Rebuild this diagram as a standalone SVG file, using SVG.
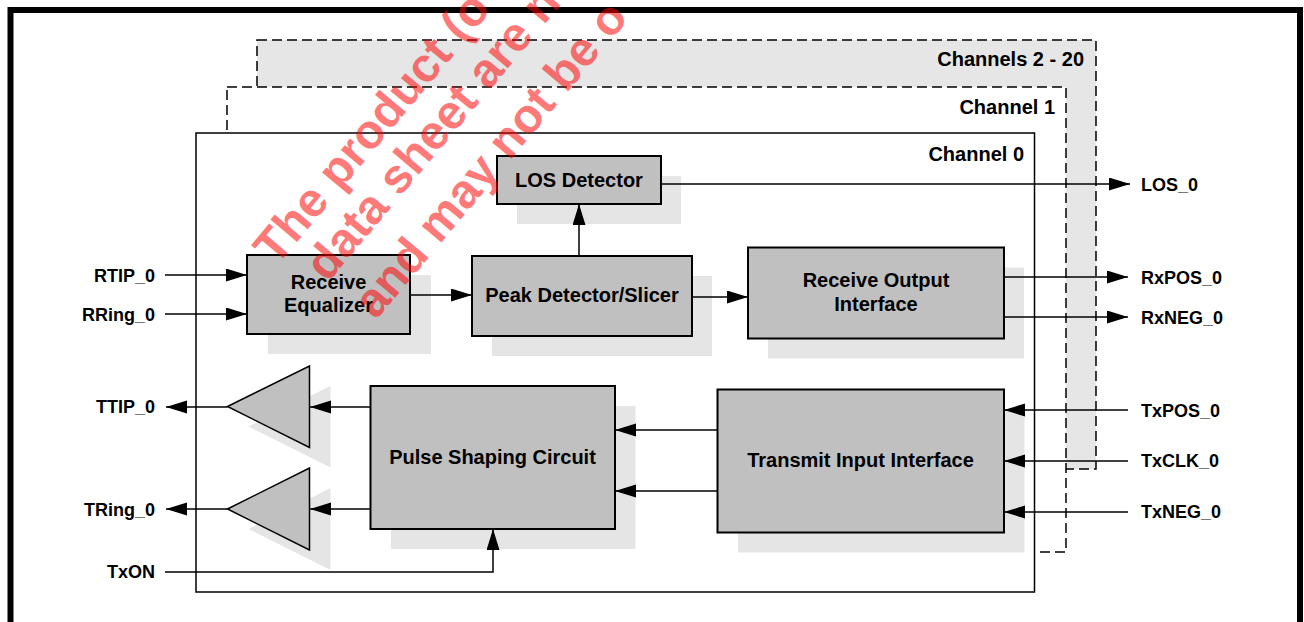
<svg xmlns="http://www.w3.org/2000/svg" width="1304" height="622" viewBox="0 0 1304 622">
<defs>
<style>
.blk{fill:#c0c0c0;stroke:#000;stroke-width:2}
.shd{fill:#e5e5e5;stroke:none}
.ch{stroke:#000;stroke-width:1.5}
.dash{stroke-dasharray:10,5}
.ln{fill:none;stroke:#000;stroke-width:1.5}
text{font-family:"Liberation Sans",Arial,Helvetica,sans-serif;font-weight:bold;fill:#000}
.bt{font-size:20px;text-anchor:middle}
.cl{font-size:20px;text-anchor:end}
.pl{font-size:18px;text-anchor:end}
.pr{font-size:18px;text-anchor:start}
.wm{font-size:48px;fill:#ff0000;font-weight:bold}
</style>
<marker id="ah" markerUnits="userSpaceOnUse" markerWidth="22" markerHeight="14" refX="21" refY="6.5" orient="auto">
<path d="M0,0 L21,6.5 L0,13 z" fill="#000"/>
</marker>
</defs>
<rect x="0" y="0" width="1304" height="622" fill="#fff"/>
<rect id="frame" x="10.5" y="10" width="1289.5" height="700" fill="none" stroke="#000" stroke-width="6"/>

<g id="channels-2-20">
<rect x="257" y="40" width="839" height="429" fill="#e6e6e6" class="ch dash"/>
<text class="cl" x="1084" y="66">Channels 2 - 20</text>
</g>
<g id="channel-1">
<rect x="227" y="87" width="839" height="465" fill="#fff" class="ch dash"/>
<text class="cl" x="1055" y="114">Channel 1</text>
</g>
<g id="channel-0">
<rect x="196" y="133" width="838.5" height="459" fill="#fff" class="ch"/>
<text class="cl" x="1024" y="161">Channel 0</text>
</g>

<g id="los-detector">
<rect class="shd" x="517" y="176" width="164" height="48"/>
<rect class="blk" x="497" y="156" width="164" height="48"/>
<text class="bt" x="579" y="187">LOS Detector</text>
</g>
<g id="receive-equalizer">
<rect class="shd" x="268" y="275" width="163" height="79"/>
<rect class="blk" x="247" y="255" width="163" height="79"/>
<text class="bt" x="328.5" y="288.5">Receive</text>
<text class="bt" x="328.5" y="312">Equalizer</text>
</g>
<g id="peak-detector">
<rect class="shd" x="492" y="276" width="220" height="80"/>
<rect class="blk" x="472" y="256" width="220" height="80"/>
<text class="bt" x="582" y="302">Peak Detector/Slicer</text>
</g>
<g id="receive-output">
<rect class="shd" x="768" y="267.5" width="256" height="91"/>
<rect class="blk" x="748" y="247.5" width="256" height="91"/>
<text class="bt" x="876" y="287">Receive Output</text>
<text class="bt" x="876" y="311">Interface</text>
</g>
<g id="pulse-shaping">
<rect class="shd" x="391" y="406" width="244.5" height="143"/>
<rect class="blk" x="370.5" y="386" width="244.5" height="143"/>
<text class="bt" x="492.5" y="464">Pulse Shaping Circuit</text>
</g>
<g id="transmit-input">
<rect class="shd" x="738" y="409.5" width="286.5" height="143"/>
<rect class="blk" x="717.5" y="389.5" width="286.5" height="143"/>
<text class="bt" x="860.5" y="467">Transmit Input Interface</text>
</g>
<g id="driver-ttip">
<polygon class="shd" points="248.5,426.5 330.5,386 330.5,467.5"/>
<polygon class="blk" style="stroke-width:1.5" points="227.5,406.5 309.5,366 309.5,447.5"/>
</g>
<g id="driver-tring">
<polygon class="shd" points="248.5,529 330.5,488 330.5,570"/>
<polygon class="blk" style="stroke-width:1.5" points="227.5,509 309.5,468 309.5,550"/>
</g>

<g id="connectors" class="ln">
<path class="ln" d="M165,275 H247" marker-end="url(#ah)"/>
<path class="ln" d="M165,314 H247" marker-end="url(#ah)"/>
<path class="ln" d="M410,295 H472" marker-end="url(#ah)"/>
<path class="ln" d="M579,256 V204" marker-end="url(#ah)"/>
<path class="ln" d="M661,184 H1130" marker-end="url(#ah)"/>
<path class="ln" d="M692,297 H748" marker-end="url(#ah)"/>
<path class="ln" d="M1004,277 H1128" marker-end="url(#ah)"/>
<path class="ln" d="M1004,317 H1128" marker-end="url(#ah)"/>
<path class="ln" d="M1128,410 H1004" marker-end="url(#ah)"/>
<path class="ln" d="M1128,461 H1004" marker-end="url(#ah)"/>
<path class="ln" d="M1128,512 H1004" marker-end="url(#ah)"/>
<path class="ln" d="M717.5,430 H615" marker-end="url(#ah)"/>
<path class="ln" d="M717.5,491 H615" marker-end="url(#ah)"/>
<path class="ln" d="M370.5,407 H310" marker-end="url(#ah)"/>
<path class="ln" d="M370.5,509 H310" marker-end="url(#ah)"/>
<path class="ln" d="M227.5,407 H166" marker-end="url(#ah)"/>
<path class="ln" d="M227.5,509 H166" marker-end="url(#ah)"/>
<path class="ln" d="M165,572 H493 V529" marker-end="url(#ah)"/>
</g>

<g id="pin-labels">
<text class="pl" x="155" y="281.5">RTIP_0</text>
<text class="pl" x="155" y="320.5">RRing_0</text>
<text class="pl" x="155" y="413">TTIP_0</text>
<text class="pl" x="155" y="515.5">TRing_0</text>
<text class="pl" x="155" y="578">TxON</text>
<text class="pr" x="1141" y="191">LOS_0</text>
<text class="pr" x="1141" y="284">RxPOS_0</text>
<text class="pr" x="1141" y="324">RxNEG_0</text>
<text class="pr" x="1141" y="416.5">TxPOS_0</text>
<text class="pr" x="1141" y="467">TxCLK_0</text>
<text class="pr" x="1141" y="518">TxNEG_0</text>
</g>

<g id="watermark" transform="rotate(-50)" opacity="0.52">
<text class="wm" x="-27" y="383">The product (o</text>
<text class="wm" x="-6.5" y="433">data sheet are n</text>
<text class="wm" x="-4" y="494">and may not be o</text>
</g>
</svg>
